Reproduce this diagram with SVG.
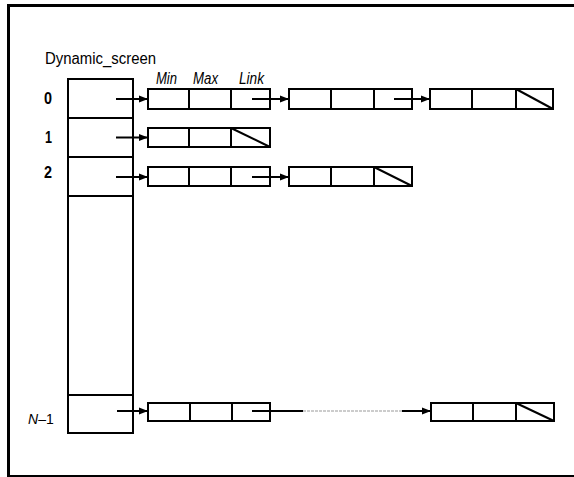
<svg xmlns="http://www.w3.org/2000/svg" width="574" height="477" viewBox="0 0 574 477">
<defs>
<style>
.box{fill:none;stroke:#000;stroke-width:2}
.ln{fill:none;stroke:#000;stroke-width:2}
.arr{fill:none;stroke:#000;stroke-width:2;marker-end:url(#ah)}
.t{font-family:"Liberation Sans",Arial,sans-serif;font-size:16px;fill:#000}
.it{font-style:italic}
.b{font-weight:bold}
</style>
<marker id="ah" markerWidth="9" markerHeight="8" refX="9" refY="4" orient="auto" markerUnits="userSpaceOnUse">
<path d="M0,0.5 L9,4 L0,7.5 z" fill="#000"/>
</marker>
</defs>
<rect width="574" height="477" fill="#fff"/>
<g id="frame">
<line x1="8" y1="5.5" x2="574" y2="5.5" stroke="#000" stroke-width="3"/>
<line x1="8.5" y1="4" x2="8.5" y2="477" stroke="#000" stroke-width="3"/>
<line x1="8" y1="476" x2="574" y2="476" stroke="#000" stroke-width="1.8"/>
</g>
<g id="labels">
<text class="t" x="45" y="64" textLength="111" lengthAdjust="spacingAndGlyphs">Dynamic_screen</text>
<text class="t it" x="156" y="84" textLength="21" lengthAdjust="spacingAndGlyphs">Min</text>
<text class="t it" x="193" y="84" textLength="25" lengthAdjust="spacingAndGlyphs">Max</text>
<text class="t it" x="239" y="84" textLength="25" lengthAdjust="spacingAndGlyphs">Link</text>
<text class="t b" x="44" y="104" textLength="8" lengthAdjust="spacingAndGlyphs">0</text>
<text class="t b" x="45" y="143" textLength="7" lengthAdjust="spacingAndGlyphs">1</text>
<text class="t b" x="44" y="178" textLength="8" lengthAdjust="spacingAndGlyphs">2</text>
<text class="t" x="28" y="424" style="font-size:14px"><tspan class="it">N</tspan>–1</text>
</g>
<g id="array">
<rect class="box" x="68" y="79" width="65" height="354"/>
<line class="ln" x1="68" y1="118" x2="133" y2="118"/>
<line class="ln" x1="68" y1="157" x2="133" y2="157"/>
<line class="ln" x1="68" y1="196" x2="133" y2="196"/>
<line class="ln" x1="68" y1="395" x2="133" y2="395"/>
</g>
<g id="node-0a">
<rect class="box" x="148" y="89" width="122" height="20"/>
<line class="ln" x1="189" y1="89" x2="189" y2="109"/>
<line class="ln" x1="231" y1="89" x2="231" y2="109"/>
</g>
<g id="node-0b">
<rect class="box" x="289" y="89" width="123" height="20"/>
<line class="ln" x1="331" y1="89" x2="331" y2="109"/>
<line class="ln" x1="374" y1="89" x2="374" y2="109"/>
</g>
<g id="node-0c">
<rect class="box" x="430" y="89" width="123" height="20"/>
<line class="ln" x1="472" y1="89" x2="472" y2="109"/>
<line class="ln" x1="516" y1="89" x2="516" y2="109"/>
<line class="ln" x1="516" y1="89" x2="553" y2="109"/>
</g>
<g id="node-1a">
<rect class="box" x="148" y="128" width="122" height="19"/>
<line class="ln" x1="189" y1="128" x2="189" y2="147"/>
<line class="ln" x1="231" y1="128" x2="231" y2="147"/>
<line class="ln" x1="231" y1="128" x2="270" y2="147"/>
</g>
<g id="node-2a">
<rect class="box" x="148" y="167" width="122" height="19"/>
<line class="ln" x1="189" y1="167" x2="189" y2="186"/>
<line class="ln" x1="231" y1="167" x2="231" y2="186"/>
</g>
<g id="node-2b">
<rect class="box" x="289" y="167" width="123" height="19"/>
<line class="ln" x1="331" y1="167" x2="331" y2="186"/>
<line class="ln" x1="374" y1="167" x2="374" y2="186"/>
<line class="ln" x1="374" y1="167" x2="412" y2="186"/>
</g>
<g id="node-na">
<rect class="box" x="148" y="403" width="122" height="18"/>
<line class="ln" x1="190" y1="403" x2="190" y2="421"/>
<line class="ln" x1="232" y1="403" x2="232" y2="421"/>
</g>
<g id="node-nb">
<rect class="box" x="431" y="403" width="123" height="18"/>
<line class="ln" x1="473" y1="403" x2="473" y2="421"/>
<line class="ln" x1="516" y1="403" x2="516" y2="421"/>
<line class="ln" x1="516" y1="403" x2="554" y2="421"/>
</g>
<g id="connectors">
<line class="arr" x1="116" y1="99" x2="148" y2="99"/>
<line class="arr" x1="252" y1="99" x2="289" y2="99"/>
<line class="arr" x1="394" y1="99" x2="430" y2="99"/>
<line class="arr" x1="116" y1="137.5" x2="148" y2="137.5"/>
<line class="arr" x1="116" y1="177" x2="148" y2="177"/>
<line class="arr" x1="252" y1="177" x2="289" y2="177"/>
<line class="arr" x1="117" y1="411" x2="148" y2="411"/>
<line class="ln" x1="252" y1="411" x2="303" y2="411"/>
<line x1="303" y1="411" x2="402" y2="411" stroke="#999" stroke-width="1" stroke-dasharray="3,1"/>
<line class="arr" x1="402" y1="411" x2="431" y2="411"/>
</g>
</svg>
